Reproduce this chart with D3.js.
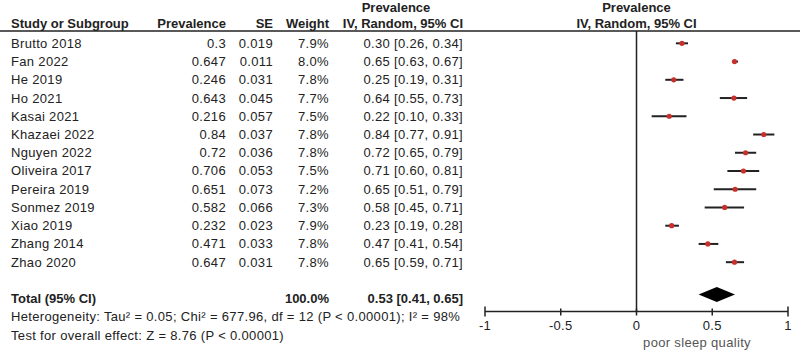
<!DOCTYPE html>
<html>
<head>
<meta charset="utf-8">
<script src="https://cdn.jsdelivr.net/npm/d3@7"></script>
<style>
  body { margin: 0; background: #fff; }
  svg text { font-family: "Liberation Sans", Arial, sans-serif; font-size: 13px; fill: #222; letter-spacing: 0.33px; }
  svg text.bold { font-weight: bold; letter-spacing: 0; }
</style>
</head>
<body>
<div id="forest"></div>
<script>
// data
var studies = ["Brutto 2018", "Fan 2022", "He 2019", "Ho 2021", "Kasai 2021", "Khazaei 2022", "Nguyen 2022",
  "Oliveira 2017", "Pereira 2019", "Sonmez 2019", "Xiao 2019", "Zhang 2014", "Zhao 2020"];
var prevalence = ["0.3", "0.647", "0.246", "0.643", "0.216", "0.84", "0.72", "0.706", "0.651", "0.582", "0.232", "0.471", "0.647"];
var se = ["0.019", "0.011", "0.031", "0.045", "0.057", "0.037", "0.036", "0.053", "0.073", "0.066", "0.023", "0.033", "0.031"];
var weight = ["7.9%", "8.0%", "7.8%", "7.7%", "7.5%", "7.8%", "7.8%", "7.5%", "7.2%", "7.3%", "7.9%", "7.8%", "7.8%"];
var est = [0.30, 0.65, 0.25, 0.64, 0.22, 0.84, 0.72, 0.71, 0.65, 0.58, 0.23, 0.47, 0.65];
var lo  = [0.26, 0.63, 0.19, 0.55, 0.10, 0.77, 0.65, 0.60, 0.51, 0.45, 0.19, 0.41, 0.59];
var hi  = [0.34, 0.67, 0.31, 0.73, 0.33, 0.91, 0.79, 0.81, 0.79, 0.71, 0.28, 0.54, 0.71];
var total = { est: 0.53, lo: 0.41, hi: 0.65, weight: "100.0%" };
var axisTicks = [-1, -0.5, 0, 0.5, 1];

var width = 800, height = 351;

var svg = d3.select("#forest").append("svg")
  .attr("width", width)
  .attr("height", height);

var x = d3.scaleLinear().domain([-1, 1]).range([485, 788]);
var y = d3.scaleBand().domain(studies).range([34.2, 271.3]);
var yc = function(s) { return y(s) + y.bandwidth() / 2; };

var axisY = 311.5;
var headerY = 31;
var left = 11;

// header
var head = svg.append("g");
head.append("text").attr("class", "bold").attr("x", left).attr("y", 28).text("Study or Subgroup");
head.append("text").attr("class", "bold").attr("x", 226).attr("y", 28).attr("text-anchor", "end").text("Prevalence");
head.append("text").attr("class", "bold").attr("x", 273).attr("y", 28).attr("text-anchor", "end").text("SE");
head.append("text").attr("class", "bold").attr("x", 329).attr("y", 28).attr("text-anchor", "end").text("Weight");
head.append("text").attr("class", "bold").attr("x", 396).attr("y", 12).attr("text-anchor", "middle").text("Prevalence");
head.append("text").attr("class", "bold").attr("x", 463).attr("y", 28).attr("text-anchor", "end").text("IV, Random, 95% CI");
head.append("text").attr("class", "bold").attr("x", x(0)).attr("y", 12).attr("text-anchor", "middle").text("Prevalence");
head.append("text").attr("class", "bold").attr("x", x(0)).attr("y", 28).attr("text-anchor", "middle").text("IV, Random, 95% CI");

svg.append("line")
  .attr("x1", 0).attr("x2", width)
  .attr("y1", headerY).attr("y2", headerY)
  .attr("stroke", "#222").attr("stroke-width", 1.5);

// rows
var rows = svg.append("g").selectAll("g").data(studies).enter().append("g");

rows.append("text").attr("x", left).attr("y", function(d) { return yc(d) + 4.5; }).text(function(d) { return d; });
rows.append("text").attr("x", 226).attr("y", function(d) { return yc(d) + 4.5; }).attr("text-anchor", "end")
  .text(function(d, i) { return prevalence[i]; });
rows.append("text").attr("x", 273).attr("y", function(d) { return yc(d) + 4.5; }).attr("text-anchor", "end")
  .text(function(d, i) { return se[i]; });
rows.append("text").attr("x", 329).attr("y", function(d) { return yc(d) + 4.5; }).attr("text-anchor", "end")
  .text(function(d, i) { return weight[i]; });
rows.append("text").attr("x", 463).attr("y", function(d) { return yc(d) + 4.5; }).attr("text-anchor", "end")
  .text(function(d, i) { return est[i].toFixed(2) + " [" + lo[i].toFixed(2) + ", " + hi[i].toFixed(2) + "]"; });

// zero line
svg.append("line")
  .attr("x1", x(0)).attr("x2", x(0))
  .attr("y1", headerY).attr("y2", axisY)
  .attr("stroke", "#222").attr("stroke-width", 1.5);

// CIs and points
rows.append("line")
  .attr("x1", function(d, i) { return x(lo[i]); })
  .attr("x2", function(d, i) { return x(hi[i]); })
  .attr("y1", yc).attr("y2", yc)
  .attr("stroke", "#222").attr("stroke-width", 2);

rows.append("circle")
  .attr("cx", function(d, i) { return x(+prevalence[i]); })
  .attr("cy", yc)
  .attr("r", 2.6)
  .attr("fill", "#c8302c");

// total row
var totY = 298;
var diaY = 294.5;
svg.append("text").attr("class", "bold").attr("x", left).attr("y", totY + 4.5).text("Total (95% CI)");
svg.append("text").attr("class", "bold").attr("x", 329).attr("y", totY + 4.5).attr("text-anchor", "end").text(total.weight);
svg.append("text").attr("class", "bold").attr("x", 463).attr("y", totY + 4.5).attr("text-anchor", "end")
  .text(total.est.toFixed(2) + " [" + total.lo.toFixed(2) + ", " + total.hi.toFixed(2) + "]");

svg.append("path")
  .attr("d", "M" + x(total.lo) + "," + diaY + "L" + x(total.est) + "," + (diaY - 7.5) +
    "L" + x(total.hi) + "," + diaY + "L" + x(total.est) + "," + (diaY + 7.5) + "Z")
  .attr("fill", "#000");

svg.append("text").attr("x", left).attr("y", 321).text("Heterogeneity: Tau\u00b2 = 0.05; Chi\u00b2 = 677.96, df = 12 (P < 0.00001); I\u00b2 = 98%");
svg.append("text").attr("x", left).attr("y", 340).text("Test for overall effect: Z = 8.76 (P < 0.00001)");

// axis
var ax = svg.append("g");
ax.append("line")
  .attr("x1", x(-1)).attr("x2", x(1))
  .attr("y1", axisY).attr("y2", axisY)
  .attr("stroke", "#222").attr("stroke-width", 1.5);

ax.selectAll(".tick").data(axisTicks).enter().append("line")
  .attr("x1", x).attr("x2", x)
  .attr("y1", function(d) { return Math.abs(d) === 1 ? axisY - 5 : axisY - 3; })
  .attr("y2", function(d) { return Math.abs(d) === 1 ? axisY + 5 : axisY + 4; })
  .attr("stroke", "#222").attr("stroke-width", 1.5);

ax.selectAll(".lbl").data(axisTicks).enter().append("text")
  .attr("x", x)
  .attr("y", 330)
  .attr("text-anchor", "middle")
  .text(function(d) { return d; });

svg.append("text").attr("x", 697).attr("y", 347).attr("text-anchor", "middle").style("fill", "#555").text("poor sleep quality");
</script>
</body>
</html>
